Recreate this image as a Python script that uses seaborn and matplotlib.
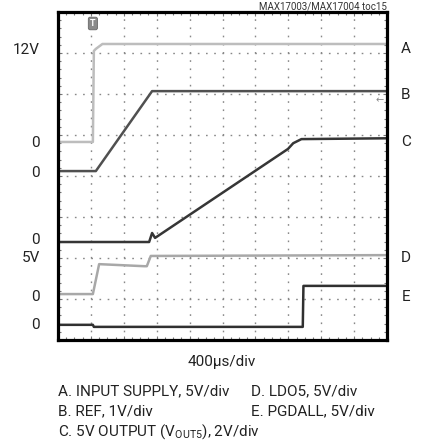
import matplotlib
matplotlib.use("Agg")
import matplotlib.pyplot as plt
import numpy as np
import pandas as pd
import seaborn as sns
from matplotlib.ticker import MultipleLocator

# ---- data (time in divisions of 400us, amplitude in screen divisions) ----
a_t = [0.0, 1.06, 1.09, 1.15, 1.35, 10.0]
a_v = [4.83, 4.83, 7.05, 7.10, 7.22, 7.22]

b_t = [0.0, 1.15, 2.86, 10.0]
b_v = [4.12, 4.12, 6.07, 6.07]

c_t = [0.0, 2.77, 2.86, 2.95, 6.99, 7.15, 7.40, 10.0]
c_v = [2.39, 2.39, 2.61, 2.49, 4.66, 4.80, 4.90, 4.92]

d_t = [0.0, 1.06, 1.25, 2.62, 2.70, 2.82, 10.0]
d_v = [1.12, 1.12, 1.85, 1.80, 1.80, 2.05, 2.07]

e_t = [0.0, 1.06, 1.09, 7.44, 7.46, 10.0]
e_v = [0.37, 0.37, 0.32, 0.32, 1.32, 1.32]

trace_names = ["A", "B", "C", "D", "E"]
left_labels = ["12V", "0", "0", "0", "5V", "0", "0"]
left_label_y = [7.07, 4.80, 4.07, 2.44, 2.00, 1.05, 0.37]
right_label_y = [7.10, 5.98, 4.83, 2.00, 1.05]
caption_col1 = ["A. INPUT SUPPLY, 5V/div", "B. REF, 1V/div",
                r"C. 5V OUTPUT ($\mathrm{V_{OUT5}}$), 2V/div"]
caption_col2 = ["D. LDO5, 5V/div", "E. PGDALL, 5V/div"]
xlabel = "400µs/div"
title = "MAX17003/MAX17004 toc15"

sns.set_style("white")
FONT = ["Roboto", "DejaVu Sans"]
plt.rcParams["font.family"] = FONT
plt.rcParams["mathtext.fontset"] = "custom"
plt.rcParams["mathtext.rm"] = "Roboto"

W, H = 421, 444
fig = plt.figure(figsize=(W / 100, H / 100), dpi=100)
ax = fig.add_axes([58 / W, 1 - 340 / H, 329 / W, 328 / H])

frames = []
for name, t, v in zip(trace_names, [a_t, b_t, c_t, d_t, e_t],
                      [a_v, b_v, c_v, d_v, e_v]):
    frames.append(pd.DataFrame({"t": t, "v": v, "trace": name}))
df = pd.concat(frames, ignore_index=True)

palette = {"A": "#bdbdbd", "B": "#505050", "C": "#363636",
           "D": "#a8a8a8", "E": "#303030"}
sns.lineplot(data=df, x="t", y="v", hue="trace", palette=palette,
             estimator=None, sort=False, linewidth=1.8, legend=False, ax=ax)

ax.set_xlim(0, 10)
ax.set_ylim(0, 8)

# dotted graticule
for xg in range(1, 10):
    ax.axvline(xg, color="#888888", lw=1.0, ls=(0, (1.2, 4.7)), zorder=0)
for yg in range(1, 8):
    ax.axhline(yg, color="#888888", lw=1.0, ls=(0, (1.2, 4.7)), zorder=0)

ax.xaxis.set_major_locator(MultipleLocator(1))
ax.xaxis.set_minor_locator(MultipleLocator(0.25))
ax.yaxis.set_major_locator(MultipleLocator(1))
ax.yaxis.set_minor_locator(MultipleLocator(0.2))
ax.tick_params(which="both", direction="in", top=True, right=True,
               bottom=True, left=True, labelbottom=False, labelleft=False,
               color="#777777", width=0.8)
ax.tick_params(which="major", length=3)
ax.tick_params(which="minor", length=2)
ax.set_xlabel("")
ax.set_ylabel("")
for s in ax.spines.values():
    s.set_linewidth(2.3)
    s.set_color("black")

# trigger marker and reference arrow
ax.text(1.06, 7.72, "T", ha="center", va="center", fontsize=6.5, color="white",
        fontweight="bold",
        bbox=dict(boxstyle="round,pad=0.2", fc="#8a8a8a", ec="#666666", lw=0.6))
ax.text(9.78, 5.85, "←", ha="center", va="center", fontsize=7, color="#888888",
        family=["DejaVu Sans"])

fs = 11
for lab, y in zip(left_labels, left_label_y):
    fig.text(40 / W, 1 - (340 - y * 41) / H, lab, ha="right", va="center",
             fontsize=fs, color="#222222")
for lab, y in zip(trace_names, right_label_y):
    fig.text(406 / W, 1 - (340 - y * 41) / H, lab, ha="center", va="center",
             fontsize=fs, color="#222222")

fig.text(387 / W, 1 - 9 / H, title, ha="right", va="baseline", fontsize=7,
         color="#333333")
fig.text(222 / W, 1 - 362 / H, xlabel, ha="center", va="center", fontsize=fs,
         color="#222222")
for i, line in enumerate(caption_col1):
    fig.text(58 / W, 1 - (391 + 20.5 * i) / H, line, ha="left", va="center",
             fontsize=fs, color="#222222")
for i, line in enumerate(caption_col2):
    fig.text(251 / W, 1 - (391 + 20.5 * i) / H, line, ha="left", va="center",
             fontsize=fs, color="#222222")

fig.savefig("out.png", dpi=100)
